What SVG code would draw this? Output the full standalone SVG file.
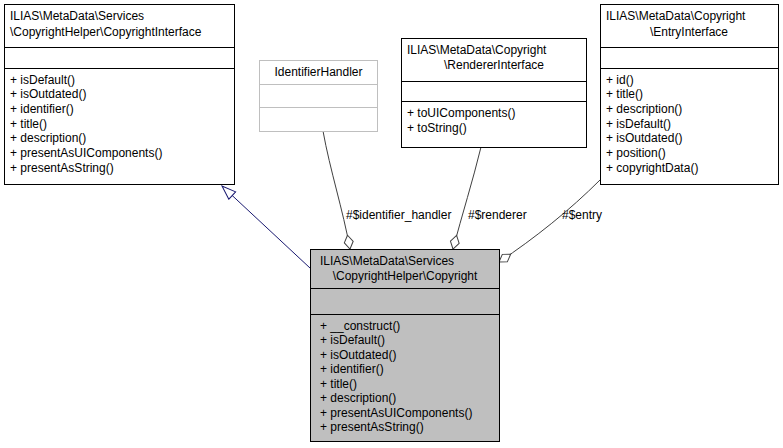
<svg xmlns="http://www.w3.org/2000/svg" width="783" height="448" viewBox="0 0 783 448">
<style>
text{font-family:"Liberation Sans",Arial,sans-serif;font-size:12px;fill:#000}
.b{fill:#fff;stroke:#000;stroke-width:1}
.g{fill:#fff;stroke:#bfbfbf;stroke-width:1}
.m{fill:#bfbfbf;stroke:#000;stroke-width:1}
.c{text-anchor:middle}
.e{fill:none;stroke:#404040;stroke-width:1}
</style>
<defs>
<marker id="dia" viewBox="0 0 16 12" refX="15" refY="6" markerWidth="16" markerHeight="12" markerUnits="userSpaceOnUse" orient="auto">
<path d="M1,6 L8,1.5 L15,6 L8,10.5 Z" fill="#fff" stroke="#404040"/>
</marker>
<marker id="tri" viewBox="0 0 16 12" refX="15" refY="6" markerWidth="16" markerHeight="12" markerUnits="userSpaceOnUse" orient="auto">
<path d="M1,1 L15,6 L1,11 Z" fill="#fff" stroke="#191970"/>
</marker>
</defs>
<g id="connectors">
<path d="M310,268 L222,186" fill="none" stroke="#191970" marker-end="url(#tri)"/>
<path class="e" d="M323,131 C330,170 343,210 350,249" marker-end="url(#dia)"/>
<path class="e" d="M481,147 C473,180 462,215 453,249" marker-end="url(#dia)"/>
<path class="e" d="M600,180 C570,210 535,238 499,262" marker-end="url(#dia)"/>
<text x="346" y="219">#$identifier_handler</text>
<text x="468" y="219">#$renderer</text>
<text x="562" y="219">#$entry</text>
</g>
<g id="CopyrightInterface">
<rect class="b" x="4.5" y="4.5" width="230" height="180"/>
<line x1="4.5" y1="47.5" x2="234.5" y2="47.5" stroke="#000"/>
<line x1="4.5" y1="68.5" x2="234.5" y2="68.5" stroke="#000"/>
<text x="10" y="20">ILIAS\MetaData\Services</text>
<text x="10" y="36">\CopyrightHelper\CopyrightInterface</text>
<text x="10" y="84">+ isDefault()</text>
<text x="10" y="98">+ isOutdated()</text>
<text x="10" y="113">+ identifier()</text>
<text x="10" y="128">+ title()</text>
<text x="10" y="142">+ description()</text>
<text x="10" y="157">+ presentAsUIComponents()</text>
<text x="10" y="172">+ presentAsString()</text>
</g>
<g id="IdentifierHandler">
<rect class="g" x="259.5" y="60.5" width="118" height="71"/>
<line x1="259.5" y1="84.5" x2="377.5" y2="84.5" stroke="#bfbfbf"/>
<line x1="259.5" y1="107.5" x2="377.5" y2="107.5" stroke="#bfbfbf"/>
<text class="c" x="318.5" y="76">IdentifierHandler</text>
</g>
<g id="RendererInterface">
<rect class="b" x="401.5" y="38.5" width="185" height="109"/>
<line x1="401.5" y1="81.5" x2="586.5" y2="81.5" stroke="#000"/>
<line x1="401.5" y1="101.5" x2="586.5" y2="101.5" stroke="#000"/>
<text x="407" y="54">ILIAS\MetaData\Copyright</text>
<text class="c" x="494" y="69">\RendererInterface</text>
<text x="407" y="117">+ toUIComponents()</text>
<text x="407" y="132">+ toString()</text>
</g>
<g id="EntryInterface">
<rect class="b" x="600.5" y="4.5" width="178" height="180"/>
<line x1="600.5" y1="47.5" x2="778.5" y2="47.5" stroke="#000"/>
<line x1="600.5" y1="68.5" x2="778.5" y2="68.5" stroke="#000"/>
<text x="606" y="20">ILIAS\MetaData\Copyright</text>
<text class="c" x="689" y="36">\EntryInterface</text>
<text x="606" y="84">+ id()</text>
<text x="606" y="98">+ title()</text>
<text x="606" y="113">+ description()</text>
<text x="606" y="128">+ isDefault()</text>
<text x="606" y="142">+ isOutdated()</text>
<text x="606" y="157">+ position()</text>
<text x="606" y="172">+ copyrightData()</text>
</g>
<g id="Copyright">
<rect class="m" x="310.5" y="249.5" width="189" height="192"/>
<line x1="310.5" y1="288.5" x2="499.5" y2="288.5" stroke="#000"/>
<line x1="310.5" y1="314.5" x2="499.5" y2="314.5" stroke="#000"/>
<text x="320" y="265">ILIAS\MetaData\Services</text>
<text x="405" y="280" class="c">\CopyrightHelper\Copyright</text>
<text x="320" y="330">+ __construct()</text>
<text x="320" y="344">+ isDefault()</text>
<text x="320" y="359">+ isOutdated()</text>
<text x="320" y="373">+ identifier()</text>
<text x="320" y="388">+ title()</text>
<text x="320" y="402">+ description()</text>
<text x="320" y="417">+ presentAsUIComponents()</text>
<text x="320" y="431">+ presentAsString()</text>
</g>
</svg>
